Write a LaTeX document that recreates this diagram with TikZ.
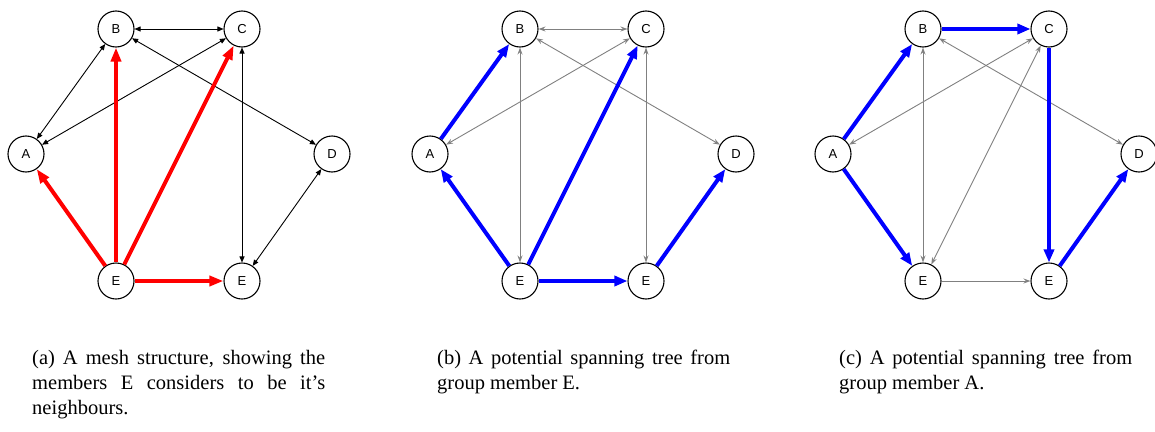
\documentclass[tikz,border=0pt]{standalone}
\usepackage{fontspec}
\setmainfont{Liberation Serif}
\newfontfamily\nodefont{Liberation Sans}
\usetikzlibrary{arrows.meta}

\tikzset{
  member/.style={circle, draw, line width=1.1pt, minimum size=36pt, inner sep=0pt,
    font=\nodefont\fontsize{13}{14}\selectfont, fill=white},
  mesh/.style={black, line width=0.9pt,
    {Triangle[length=6pt,width=5pt]}-{Triangle[length=6pt,width=5pt]}},
  redarrow/.style={red, line width=4pt, -{Triangle[length=14pt,width=10pt]}},
  bluearrow/.style={blue, line width=4pt, -{Triangle[length=13pt,width=10pt]}},
  greyboth/.style={gray, line width=0.9pt,
    {Stealth[open,length=7pt,width=5pt]}-{Stealth[open,length=7pt,width=5pt]}},
  greyone/.style={gray, line width=0.9pt, -{Stealth[open,length=7pt,width=5pt]}},
  captext/.style={anchor=north west, inner sep=0pt, text width=293pt, align=justify,
    font=\fontsize{20.5}{25}\selectfont},
}

\begin{document}
\begin{tikzpicture}[x=1pt,y=-1pt]
\useasboundingbox (0,0) rectangle (1155,431);
\foreach \p/\dx in {a/0,b/404,c/807}{
  \node[member] (\p-A) at (26+\dx,154) {A};
  \node[member] (\p-B) at (116+\dx,29) {B};
  \node[member] (\p-C) at (242+\dx,29) {C};
  \node[member] (\p-D) at (332+\dx,154) {D};
  \node[member] (\p-E1) at (116+\dx,281) {E};
  \node[member] (\p-E2) at (242+\dx,281) {E};
}

% (a) mesh
\draw[mesh] (a-B) -- (a-C);
\draw[mesh] (a-B) -- (a-A);
\draw[mesh] (a-C) -- (a-A);
\draw[mesh] (a-B) -- (a-D);
\draw[mesh] (a-C) -- (a-E2);
\draw[mesh] (a-D) -- (a-E2);
\draw[redarrow] (a-E1) -- (a-A);
\draw[redarrow] (a-E1) -- (a-B);
\draw[redarrow] (a-E1) -- (a-C);
\draw[redarrow] (a-E1) -- (a-E2);

% (b) spanning tree from E
\draw[greyboth] (b-B) -- (b-C);
\draw[greyboth] (b-B) -- (b-E1);
\draw[greyboth] (b-C) -- (b-E2);
\draw[greyboth] (b-C) -- (b-A);
\draw[greyboth] (b-B) -- (b-D);
\draw[bluearrow] (b-A) -- (b-B);
\draw[bluearrow] (b-E1) -- (b-A);
\draw[bluearrow] (b-E1) -- (b-C);
\draw[bluearrow] (b-E1) -- (b-E2);
\draw[bluearrow] (b-E2) -- (b-D);

% (c) spanning tree from A
\draw[greyboth] (c-B) -- (c-E1);
\draw[greyboth] (c-C) -- (c-A);
\draw[greyboth] (c-C) -- (c-E1);
\draw[greyboth] (c-B) -- (c-D);
\draw[greyone] (c-E1) -- (c-E2);
\draw[bluearrow] (c-A) -- (c-B);
\draw[bluearrow] (c-B) -- (c-C);
\draw[bluearrow] (c-C) -- (c-E2);
\draw[bluearrow] (c-E2) -- (c-D);
\draw[bluearrow] (c-A) -- (c-E1);

% captions
\node[captext] (capa) at (32,350) {\hyphenpenalty=10000 (a) A mesh structure, showing the members E considers to be it’s neighbours.};
\node[captext] (capb) at (437,350) {\hyphenpenalty=10000 (b) A potential spanning tree from group member E.};
\node[captext] (capc) at (839,350) {\hyphenpenalty=10000 (c) A potential spanning tree from group member A.};
\end{tikzpicture}
\end{document}
